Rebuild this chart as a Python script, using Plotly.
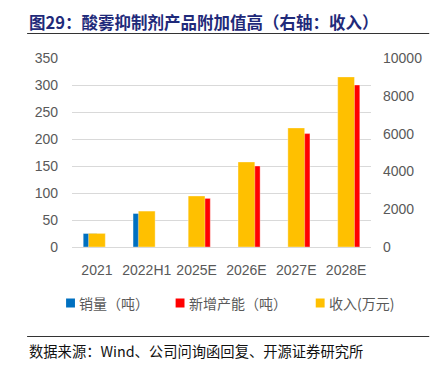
import plotly.graph_objects as go

categories = ["2021", "2022H1", "2025E", "2026E", "2027E", "2028E"]
sales_t = [25, 62, None, None, None, None]          # 销量（吨）
new_capacity_t = [None, None, 90, 150, 210, 300]    # 新增产能（吨）
revenue_wan = [720, 1900, 2700, 4500, 6300, 9000]   # 收入(万元)
series_names = ["销量（吨）", "新增产能（吨）", "收入(万元)"]
series_colors = ["#0070C0", "#FF0000", "#FFC000"]
left_ticks = [0, 50, 100, 150, 200, 250, 300, 350]
right_ticks = [0, 2000, 4000, 6000, 8000, 10000]

W, H = 434, 375
L, R, T, B = 72, 59, 58, 128
PW, PH = W - L - R, H - T - B

def px_x(x):
    return (x - L) / PW

def px_y(y):
    return (H - y - B) / PH

edge = dict(color="rgba(255,255,255,0.6)", width=0.6)

fig = go.Figure()
fig.add_trace(go.Bar(x=categories, y=sales_t, name=series_names[0],
                     marker=dict(color=series_colors[0], line=edge),
                     width=0.275, offset=-0.275, yaxis="y", showlegend=False))
fig.add_trace(go.Bar(x=categories, y=new_capacity_t, name=series_names[1],
                     marker=dict(color=series_colors[1], line=edge),
                     width=0.275, offset=0.0, yaxis="y", showlegend=False))
fig.add_trace(go.Bar(x=categories, y=revenue_wan, name=series_names[2],
                     marker=dict(color=series_colors[2], line=edge),
                     width=0.337, offset=-0.1685, yaxis="y2", showlegend=False))

tick_font = dict(family="Liberation Sans, Arial, sans-serif", size=14, color="#595959")

fig.update_layout(
    width=W, height=H,
    margin=dict(l=L, r=R, t=T, b=B, pad=0),
    paper_bgcolor="white", plot_bgcolor="white",
    barmode="overlay",
    xaxis=dict(type="category", showgrid=False, showline=True, linecolor="#d9d9d9", linewidth=1,
               ticks="", tickfont=tick_font, ticklabelstandoff=10, fixedrange=True),
    yaxis=dict(range=[0, 350], tickvals=left_ticks, showgrid=True, gridcolor="#d9d9d9", gridwidth=1,
               zeroline=False, showline=False, ticks="", tickfont=tick_font, ticklabelstandoff=13),
    yaxis2=dict(range=[0, 10000], tickvals=right_ticks, ticktext=[str(v) for v in right_ticks],
                overlaying="y", side="right", showgrid=False,
                zeroline=False, showline=False, ticks="", tickfont=tick_font, ticklabelstandoff=11),
    font=dict(family="Noto Sans CJK SC, sans-serif"),
)

# title
fig.add_annotation(text="图29：酸雾抑制剂产品附加值高（右轴：收入）", xref="paper", yref="paper",
                   x=px_x(26), y=px_y(21.5), xanchor="left", yanchor="middle", showarrow=False,
                   font=dict(family="Noto Sans CJK SC, sans-serif", size=16.5, color="#1f2a7a", weight="bold"))
fig.add_shape(type="line", xref="paper", yref="paper", x0=px_x(26.5), x1=px_x(434), y0=px_y(33.5), y1=px_y(33.5),
              line=dict(color="#333333", width=1.2))

# legend (manual)
leg_sq_x = [66, 177, 319]
for name, color, sx in zip(series_names, series_colors, leg_sq_x):
    fig.add_shape(type="rect", xref="paper", yref="paper", x0=px_x(sx), x1=px_x(sx + 9),
                  y0=px_y(307.5), y1=px_y(298.5), fillcolor=color, line=dict(width=0))
    fig.add_annotation(text=name, xref="paper", yref="paper", x=px_x(sx + 11.5), y=px_y(303),
                       xanchor="left", yanchor="middle", showarrow=False,
                       font=dict(family="Noto Sans CJK SC, sans-serif", size=14, color="#595959"))

# source
fig.add_shape(type="line", xref="paper", yref="paper", x0=px_x(26.5), x1=px_x(434), y0=px_y(336.5), y1=px_y(336.5),
              line=dict(color="#333333", width=1.2))
fig.add_annotation(text="数据来源：Wind、公司问询函回复、开源证券研究所", xref="paper", yref="paper",
                   x=px_x(26), y=px_y(350), xanchor="left", yanchor="middle", showarrow=False,
                   font=dict(family="Noto Sans CJK SC, sans-serif", size=14.3, color="#111111"))

fig.write_html("out.html", config={"displayModeBar": False},
               post_script="document.body.style.margin='0';")
